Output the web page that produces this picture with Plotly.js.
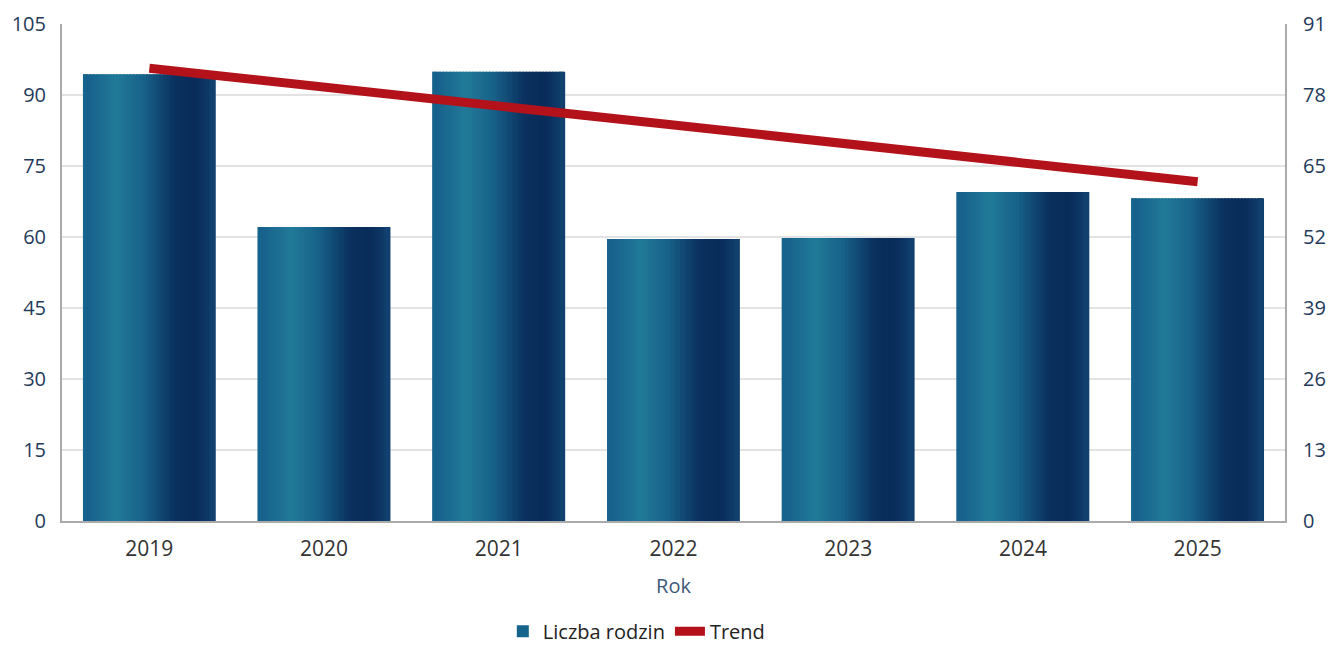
<!DOCTYPE html>
<html>
<head>
<meta charset="utf-8">
<script src="https://cdn.plot.ly/plotly-3.0.1.min.js"></script>
<style>html,body{margin:0;padding:0;background:#fff;}#chart{width:1330px;height:647px;}</style>
</head>
<body>
<div id="chart"></div>
<script>
// ---- data ----
const years = ['2019', '2020', '2021', '2022', '2023', '2024', '2025'];
const families = [94.4, 62.1, 94.9, 59.6, 59.8, 69.5, 68.2];
const trendYears = ['2019', '2025'];
const trendValues = [82.9, 62.1];
const leftTicks = [0, 15, 30, 45, 60, 75, 90, 105];
const rightTicks = [0, 13, 26, 39, 52, 65, 78, 91];

// ---- style: cylindrical shading built from narrow vertical stripes ----
const shadeStops = [[0, [22, 92, 138]], [0.25, [32, 122, 152]], [0.45, [24, 98, 138]],
                    [0.7, [10, 48, 94]], [0.85, [9, 44, 90]], [1, [18, 66, 112]]];
function shade(t) {
  for (let k = 0; k < shadeStops.length - 1; k++) {
    const [a, ca] = shadeStops[k], [b, cb] = shadeStops[k + 1];
    if (t >= a && t <= b) {
      const f = (t - a) / (b - a);
      const c = ca.map((v, j) => Math.round(v + (cb[j] - v) * f));
      return 'rgb(' + c.join(',') + ')';
    }
  }
  return 'rgb(18,66,112)';
}
const nStripes = 40;
const barWidth = 0.76;
const sw = barWidth / nStripes;
const traces = [];
for (let i = 0; i < nStripes; i++) {
  traces.push({
    type: 'bar', x: years, y: families,
    width: sw * 1.6, offset: -barWidth / 2 + i * sw - (i === nStripes - 1 ? 0.6 * sw : 0),
    marker: {color: shade((i + 0.5) / nStripes), line: {width: 0}},
    name: 'Liczba rodzin',
    showlegend: false,
    legendgroup: 'bars',
    hoverinfo: 'skip'
  });
}
// legend entry for the bars
traces.push({
  type: 'bar', x: years, y: families, width: sw, offset: -barWidth / 2,
  marker: {color: 'rgb(22,100,140)', line: {width: 0}},
  name: 'Liczba rodzin', legendgroup: 'bars', showlegend: true
});
traces.push({
  type: 'scatter', mode: 'lines', x: trendYears, y: trendValues, yaxis: 'y2',
  name: 'Trend', line: {color: '#b3121b', width: 9}
});

const layout = {
  width: 1330, height: 647,
  margin: {l: 62, r: 45, t: 24, b: 126, autoexpand: false},
  paper_bgcolor: '#fff', plot_bgcolor: '#fff',
  font: {family: '"Open Sans", sans-serif', size: 20, color: '#1f3a5a'},
  barmode: 'overlay',
  showlegend: true,
  legend: {orientation: 'h', x: 0.47, xanchor: 'center', y: -0.222, yanchor: 'middle',
           font: {size: 20, color: '#222'}, itemwidth: 30, tracegroupgap: 0},
  xaxis: {
    type: 'category', categoryorder: 'array', categoryarray: years,
    showline: true, linecolor: '#aaaaaa', linewidth: 2, showgrid: false,
    ticks: '', tickfont: {size: 21, color: '#333'}, ticklabelstandoff: 8,
    title: {text: 'Rok', font: {size: 20, color: '#3d5a7a'}, standoff: 18}
  },
  yaxis: {
    range: [0, 105], tickvals: leftTicks, showline: true, linecolor: '#aaaaaa', linewidth: 2,
    gridcolor: '#e3e3e3', gridwidth: 1.5, zeroline: false, ticks: '',
    tickfont: {size: 20, color: '#1f3a5a'}, ticklabelstandoff: 10
  },
  yaxis2: {
    overlaying: 'y', side: 'right', range: [0, 91], tickvals: rightTicks,
    showline: true, linecolor: '#aaaaaa', linewidth: 2, showgrid: false, zeroline: false,
    ticks: '', tickfont: {size: 20, color: '#1f3a5a'}, ticklabelstandoff: 12
  }
};
Plotly.newPlot('chart', traces, layout, {displayModeBar: false, staticPlot: true});
</script>
</body>
</html>
